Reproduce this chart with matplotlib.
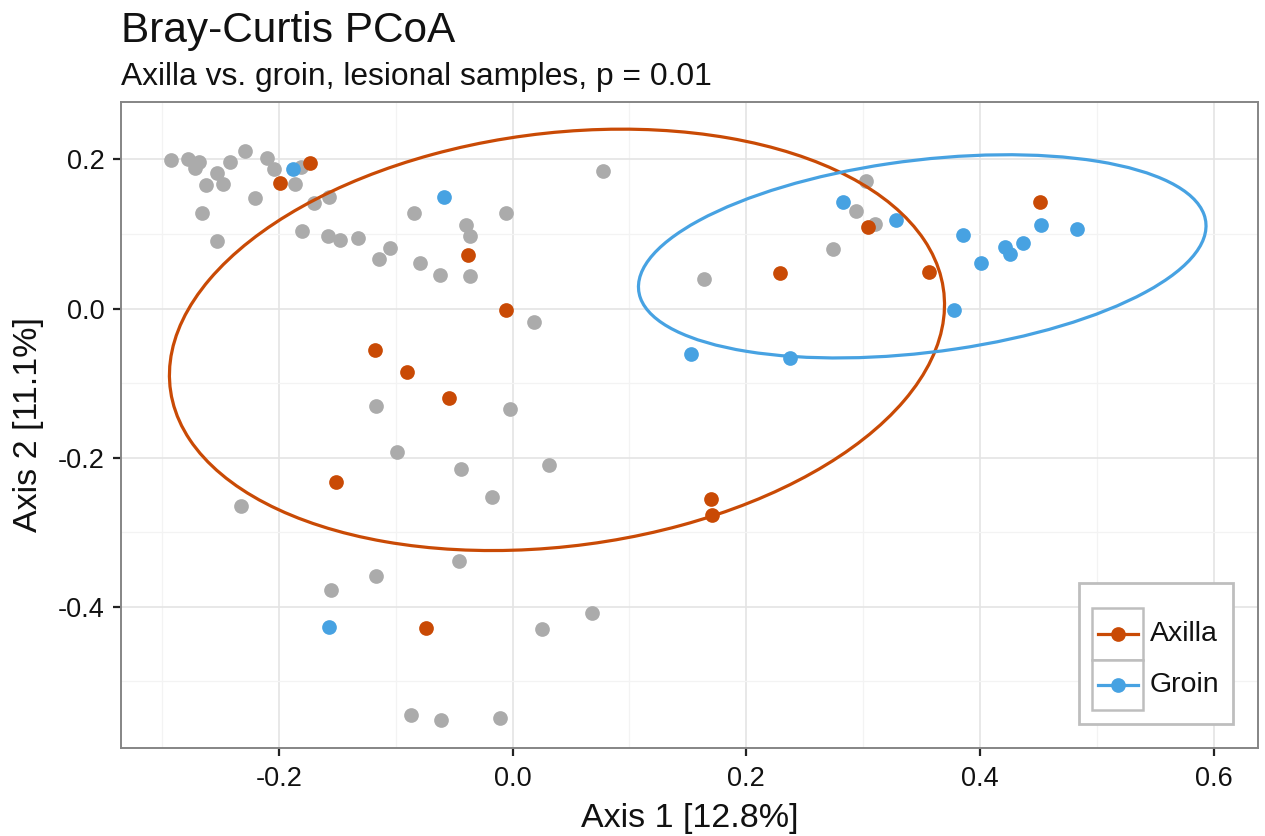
"""Bray-Curtis PCoA of lesional samples, axilla vs. groin, drawn in a
ggplot theme_bw look: scatter of all samples plus one 95% ellipse per site.
"""

import matplotlib

matplotlib.use("Agg")
import matplotlib.pyplot as plt
from matplotlib.lines import Line2D
from matplotlib.patches import Ellipse, Rectangle
from matplotlib.ticker import MultipleLocator

# samples that are neither axilla nor groin (drawn in grey, underneath)
other_x = [-0.292, -0.278, -0.272, -0.268, -0.262, -0.253, -0.248, -0.242, -0.229, -0.210,
           -0.204, -0.266, -0.253, -0.220, -0.186, -0.181, -0.170, -0.157, -0.180, -0.158,
           -0.148, -0.132, -0.114, -0.105, -0.084, -0.079, -0.062, -0.040, -0.036, -0.036,
           -0.006, 0.077, 0.018, 0.164, 0.274, 0.302, 0.294, 0.310, -0.117, -0.002,
           -0.099, -0.044, -0.018, -0.232, -0.046, -0.117, -0.155, -0.087, -0.061, -0.011,
           0.031, 0.068, 0.025]
other_y = [0.199, 0.200, 0.188, 0.197, 0.166, 0.182, 0.167, 0.197, 0.211, 0.202,
           0.187, 0.128, 0.090, 0.148, 0.167, 0.190, 0.141, 0.150, 0.104, 0.097,
           0.092, 0.095, 0.067, 0.081, 0.128, 0.061, 0.045, 0.112, 0.097, 0.043,
           0.128, 0.184, -0.018, 0.040, 0.080, 0.171, 0.131, 0.114, -0.131, -0.135,
           -0.193, -0.215, -0.253, -0.265, -0.338, -0.359, -0.378, -0.545, -0.552, -0.549,
           -0.210, -0.409, -0.430]

axilla_x = [-0.173, -0.199, -0.038, -0.006, -0.118, -0.090, -0.054, -0.151, -0.074,
            0.229, 0.304, 0.451, 0.356, 0.170, 0.171]
axilla_y = [0.195, 0.169, 0.072, -0.002, -0.056, -0.085, -0.120, -0.233, -0.429,
            0.047, 0.109, 0.143, 0.049, -0.255, -0.277]

groin_x = [-0.188, -0.059, -0.157, 0.153, 0.237, 0.283, 0.328, 0.385, 0.401, 0.421,
           0.426, 0.437, 0.452, 0.483, 0.378]
groin_y = [0.187, 0.150, -0.427, -0.061, -0.066, 0.143, 0.119, 0.098, 0.061, 0.082,
           0.073, 0.088, 0.112, 0.107, -0.002]

# 95% ellipses: center, full width/height, rotation (deg)
axilla_ellipse = [(0.038, -0.042), 0.683, 0.541, 23.1]
groin_ellipse = [(0.3505, 0.070), 0.495, 0.255, 13.1]

site_labels = ["Axilla", "Groin"]

AXILLA_COLOR = "#C94A05"
GROIN_COLOR = "#47A2E2"
OTHER_COLOR = "#ABABAB"
FONT = ["Liberation Sans", "DejaVu Sans"]
POINT_SIZE = 112


def style_axes(ax):
    ax.set_xlim(-0.335, 0.6375)
    ax.set_ylim(-0.589, 0.277)
    ax.xaxis.set_major_locator(MultipleLocator(0.2))
    ax.xaxis.set_minor_locator(MultipleLocator(0.1))
    ax.yaxis.set_major_locator(MultipleLocator(0.2))
    ax.yaxis.set_minor_locator(MultipleLocator(0.1))
    ax.xaxis.set_major_formatter(lambda v, _: f"{v:.1f}".replace("-0.0", "0.0"))
    ax.yaxis.set_major_formatter(lambda v, _: f"{v:.1f}".replace("-0.0", "0.0"))

    ax.grid(True, which="major", color="#E4E4E4", linewidth=1.2)
    ax.grid(True, which="minor", color="#F3F3F3", linewidth=0.9)
    ax.set_axisbelow(True)

    for spine in ax.spines.values():
        spine.set_color("#858585")
        spine.set_linewidth(1.4)

    ax.tick_params(which="major", length=6, width=1.6, color="#222222",
                   labelsize=19.5, labelcolor="#111111")
    ax.tick_params(axis="x", which="major", pad=7)
    ax.tick_params(axis="y", which="major", pad=6)
    ax.tick_params(which="minor", length=0)


def draw_legend(ax):
    # ggplot-style legend built by hand: outer box plus one framed key per site
    tr = ax.transAxes
    ax.add_patch(Rectangle((0.8431, 0.0367), 0.1354, 0.2179, transform=tr,
                           facecolor="white", edgecolor="#BEBEBE", linewidth=2.0, zorder=5))
    key_rows = [(0.1358, 0.0801), (0.0584, 0.0774)]
    colors = [AXILLA_COLOR, GROIN_COLOR]
    for (y0, h), color, label in zip(key_rows, colors, site_labels):
        ax.add_patch(Rectangle((0.8539, y0), 0.0454, h, transform=tr,
                               facecolor="white", edgecolor="#BEBEBE", linewidth=1.8, zorder=6))
        yc = y0 + h / 2
        ax.add_line(Line2D([0.8592, 0.8949], [yc, yc], transform=tr, color=color,
                           linewidth=2.3, zorder=7))
        ax.add_line(Line2D([0.8774], [yc], transform=tr, color=color, marker="o",
                           markersize=POINT_SIZE ** 0.5, markeredgewidth=0, zorder=8))
        ax.text(0.9053, yc, label, transform=tr, fontsize=20.5, va="center",
                ha="left", family=FONT, color="#111111", zorder=8)


def main():
    plt.rcParams["font.family"] = FONT

    fig = plt.figure(figsize=(12.65, 8.36), dpi=100)
    ax = fig.add_axes([0.09565, 0.10562, 0.89858, 0.77237])
    style_axes(ax)

    ax.scatter(other_x, other_y, s=POINT_SIZE, color=OTHER_COLOR, linewidths=0, zorder=2)
    ax.scatter(axilla_x, axilla_y, s=POINT_SIZE, color=AXILLA_COLOR, linewidths=0, zorder=3)
    ax.scatter(groin_x, groin_y, s=POINT_SIZE, color=GROIN_COLOR, linewidths=0, zorder=3)

    for (center, w, h, angle), color in [(axilla_ellipse, AXILLA_COLOR),
                                         (groin_ellipse, GROIN_COLOR)]:
        ax.add_patch(Ellipse(center, w, h, angle=angle, fill=False,
                             edgecolor=color, linewidth=2.3, zorder=4))

    ax.set_xlabel("Axis 1 [12.8%]", fontsize=24.5, va="baseline", color="#111111")
    ax.xaxis.set_label_coords(0.5, -0.1223)
    ax.set_ylabel("Axis 2 [11.1%]", fontsize=24.5, va="baseline", color="#111111")
    ax.yaxis.set_label_coords(-0.0739, 0.5)

    fig.text(0.0957, 0.950, "Bray-Curtis PCoA", fontsize=30.5, va="baseline",
             ha="left", color="#111111")
    fig.text(0.0957, 0.8983, "Axilla vs. groin, lesional samples, p = 0.01",
             fontsize=22.9, va="baseline", ha="left", color="#111111")

    draw_legend(ax)

    fig.savefig("out.png", dpi=100, facecolor="white")
    plt.close(fig)


if __name__ == "__main__":
    main()
